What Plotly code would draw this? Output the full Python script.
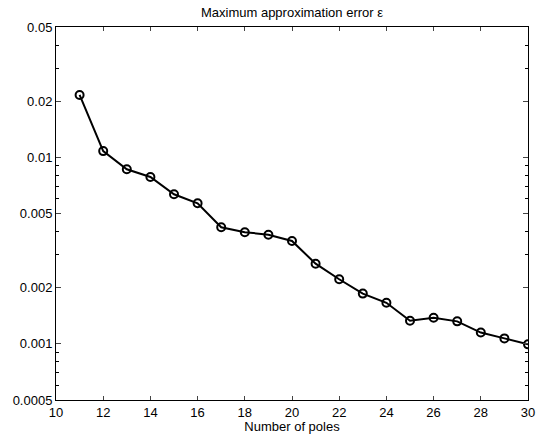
import plotly.graph_objects as go

poles = [11, 12, 13, 14, 15, 16, 17, 18, 19, 20, 21, 22, 23, 24, 25, 26, 27, 28, 29, 30]
max_error = [0.0216, 0.0108, 0.00863, 0.00785, 0.00634, 0.00567, 0.00422, 0.00397,
             0.00385, 0.00356, 0.00269, 0.00222, 0.00186, 0.00166, 0.00133, 0.00138,
             0.00132, 0.00115, 0.00107, 0.000994]

x_ticks = [10, 12, 14, 16, 18, 20, 22, 24, 26, 28, 30]
y_ticks = [0.0005, 0.001, 0.002, 0.005, 0.01, 0.02, 0.05]
y_ticktext = ["0.0005", "0.001", "0.002", "0.005", "0.01", "0.02", "0.05"]
y_minor = [0.0006, 0.0007, 0.0008, 0.0009, 0.003, 0.004, 0.006, 0.007, 0.008, 0.009,
           0.03, 0.04]

font = "Liberation Sans, Arial, Helvetica, sans-serif"

fig = go.Figure()
fig.add_trace(go.Scatter(
    x=poles, y=max_error, mode="lines+markers",
    line=dict(color="black", width=2),
    marker=dict(symbol="circle-open", size=8, color="black", line=dict(width=2)),
    showlegend=False,
))

fig.update_layout(
    width=536, height=434,
    margin=dict(l=56, r=8, t=27, b=34),
    paper_bgcolor="white", plot_bgcolor="white",
    font=dict(family=font, size=13, color="black"),
    title=dict(text="Maximum approximation error ε", x=0.5, xanchor="center",
               xref="paper", y=1, yref="container", yanchor="top", pad=dict(t=8),
               font=dict(size=13)),
)
fig.update_xaxes(
    range=[10, 30], tickvals=x_ticks, ticks="inside", ticklen=4,
    showline=True, linecolor="black", linewidth=1, mirror="ticks",
    showgrid=False, zeroline=False, automargin=False,
    title=dict(text="Number of poles", standoff=4, font=dict(size=13)),
    tickfont=dict(size=13),
)
fig.update_yaxes(
    type="log", range=[-3.30103, -1.30103],
    tickvals=y_ticks, ticktext=y_ticktext, ticks="inside", ticklen=5,
    minor=dict(tickvals=y_minor, ticks="inside", ticklen=3, tickcolor="black"),
    showline=True, linecolor="black", linewidth=1, mirror="ticks",
    showgrid=False, zeroline=False, automargin=False,
    tickfont=dict(size=13),
)

fig.write_html("out.html", config={"displayModeBar": False},
               post_script="document.body.style.margin='0';document.body.style.overflow='hidden';")
